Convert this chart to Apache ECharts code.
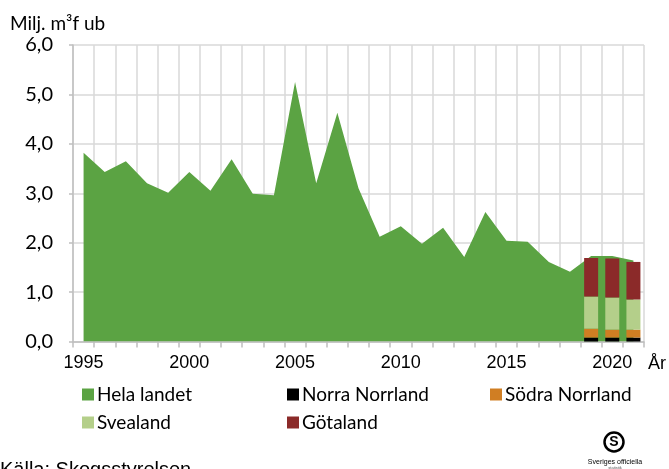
<!DOCTYPE html>
<html>
<head>
<meta charset="utf-8">
<script src="https://cdn.jsdelivr.net/npm/echarts@6/dist/echarts.min.js"></script>
<style>
  html, body { margin: 0; padding: 0; background: #fff; }
  #chart { width: 669px; height: 469px; }
</style>
</head>
<body>
<div id="chart"></div>
<script>
// år 1995-2021
const years = ['1995', '1996', '1997', '1998', '1999', '2000', '2001', '2002', '2003', '2004',
  '2005', '2006', '2007', '2008', '2009', '2010', '2011', '2012', '2013', '2014',
  '2015', '2016', '2017', '2018', '2019', '2020', '2021'];

// Hela landet (milj. m3f ub)
const helaLandet = [3.82, 3.43, 3.65, 3.2, 3.01, 3.43, 3.05, 3.69, 2.99, 2.96,
  5.25, 3.2, 4.63, 3.1, 2.12, 2.33, 1.98, 2.3, 1.71, 2.62,
  2.04, 2.02, 1.61, 1.41, 1.73, 1.73, 1.64];

// landsdelar, bara 2019-2021
const norraNorrland = [0.08, 0.08, 0.08];
const sodraNorrland = [0.18, 0.16, 0.16];
const svealand = [0.65, 0.65, 0.61];
const gotaland = [0.78, 0.79, 0.76];

const yTicks = [0, 1, 2, 3, 4, 5, 6];

// fyll ut så att staplarna hamnar på rätt år
function padRegion(arr) {
  const out = years.map(() => null);
  arr.forEach((v, i) => { out[years.length - arr.length + i] = v; });
  return out;
}

const chart = echarts.init(document.getElementById('chart'));
const font = 'Liberation Sans, Arial, sans-serif';
const font2 = 'Lato, Liberation Sans, sans-serif';

const legendPos = [
  { name: 'Hela landet', left: 82, top: 385 },
  { name: 'Norra Norrland', left: 287, top: 385 },
  { name: 'Södra Norrland', left: 490, top: 385 },
  { name: 'Svealand', left: 82, top: 413 },
  { name: 'Götaland', left: 287, top: 413 }
];

const option = {
  animation: false,
  grid: { left: 73, right: 23, top: 45, bottom: 127.5, containLabel: false },
  legend: legendPos.map(l => ({
    data: [l.name],
    left: l.left,
    top: l.top,
    padding: 0,
    icon: 'rect',
    itemWidth: 12,
    itemHeight: 12,
    itemGap: 4,
    textStyle: { fontFamily: font2, fontSize: 19, color: '#000', padding: [0, 0, 0, -2] }
  })),
  xAxis: {
    type: 'category',
    data: years,
    boundaryGap: true,
    name: 'År',
    nameLocation: 'end',
    nameGap: 4,
    nameTextStyle: { fontFamily: font, fontSize: 18, color: '#000', verticalAlign: 'top', padding: [14, 0, 0, 0] },
    axisLine: { lineStyle: { color: '#bfbfbf', width: 1.5 } },
    axisTick: { show: true, interval: 0, length: 6, lineStyle: { color: '#bfbfbf', width: 1.5 } },
    splitLine: { show: true, interval: 0, lineStyle: { color: '#d9d9d9', width: 1.5 } },
    axisLabel: {
      interval: (i, v) => Number(v) % 5 === 0,
      fontFamily: font, fontSize: 18, color: '#000', margin: 13
    }
  },
  yAxis: {
    type: 'value',
    min: 0,
    max: 6,
    interval: 1,
    name: 'Milj. m³f ub',
    nameLocation: 'end',
    nameGap: 12,
    nameTextStyle: { fontFamily: font2, fontSize: 19, color: '#000', align: 'left', padding: [0, 0, 0, -63] },
    axisLine: { show: true, lineStyle: { color: '#bfbfbf', width: 1.5 } },
    axisTick: { show: true, length: 4, lineStyle: { color: '#bfbfbf', width: 1.5 } },
    splitLine: { show: true, lineStyle: { color: '#d9d9d9', width: 1.5 } },
    axisLabel: {
      formatter: v => yTicks.includes(v) ? v.toFixed(1).replace('.', ',') : '',
      fontFamily: font2, fontSize: 20, color: '#000', margin: 20
    }
  },
  series: [
    {
      name: 'Hela landet',
      type: 'line',
      data: helaLandet,
      symbol: 'none',
      color: '#5BA343',
      lineStyle: { width: 0 },
      areaStyle: { color: '#5BA343', opacity: 1 },
      z: 2
    },
    {
      name: 'Norra Norrland', type: 'bar', stack: 'region', data: padRegion(norraNorrland),
      color: '#000000', barWidth: 14, z: 3
    },
    {
      name: 'Södra Norrland', type: 'bar', stack: 'region', data: padRegion(sodraNorrland),
      color: '#D07E23', barWidth: 14, z: 3
    },
    {
      name: 'Svealand', type: 'bar', stack: 'region', data: padRegion(svealand),
      color: '#B4CF8A', barWidth: 14, z: 3
    },
    {
      name: 'Götaland', type: 'bar', stack: 'region', data: padRegion(gotaland),
      color: '#8B2A29', barWidth: 14, z: 3
    }
  ],
  graphic: [
    {
      type: 'text', left: 0, top: 460,
      style: { text: 'Källa: Skogsstyrelsen', fontFamily: font, fontSize: 20, fill: '#000' }
    },
    {
      type: 'circle', shape: { cx: 614, cy: 442, r: 9.5 },
      style: { fill: 'none', stroke: '#000', lineWidth: 2.5 }
    },
    {
      type: 'text', x: 614, y: 442,
      style: { text: 'S', fontFamily: font, fontSize: 14, fontWeight: 'bold', fill: '#000', align: 'center', verticalAlign: 'middle' }
    },
    {
      type: 'text', x: 615, y: 462,
      style: { text: 'Sveriges officiella', fontFamily: font, fontSize: 7, fill: '#000', align: 'center', verticalAlign: 'middle' }
    },
    {
      type: 'text', x: 615, y: 468,
      style: { text: 'statistik', fontFamily: font, fontSize: 4, fill: '#555', align: 'center', verticalAlign: 'middle' }
    }
  ]
};

chart.setOption(option);
</script>
</body>
</html>
